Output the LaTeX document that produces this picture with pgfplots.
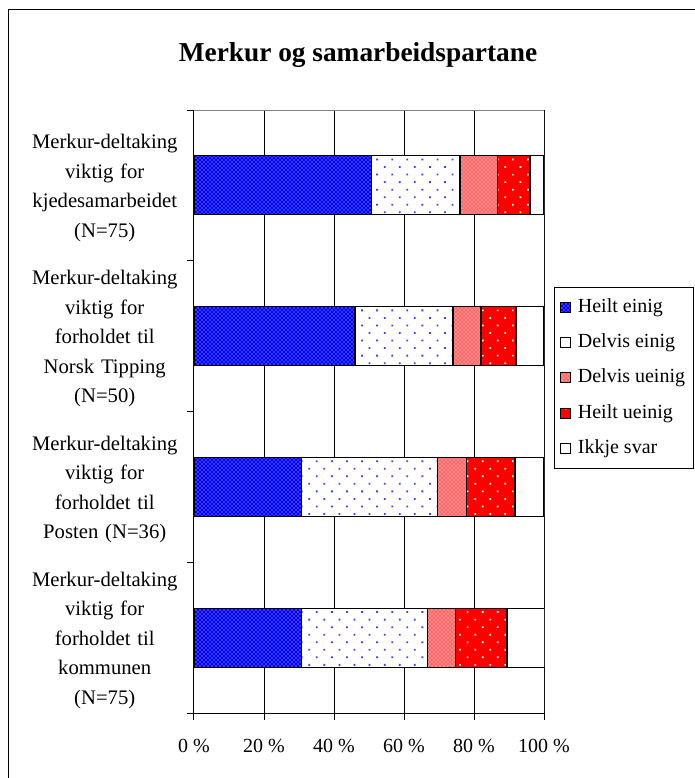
\documentclass[border=0pt]{standalone}
\usepackage{fontspec}
\setmainfont{Liberation Serif}
\usepackage{pgfplots}
\pgfplotsset{compat=1.18}
\usetikzlibrary{patterns,patterns.meta}

\pgfplotstableread{
y  he  de  du  hu  ik
0  50.7 25.3 10.7 9.3 4.0
1  46.0 28.0 8.0 10.0 8.0
2  30.6 38.9 8.3 13.9 8.3
3  30.7 36.0 8.0 14.7 10.7
}\datatable

\begin{document}
\begin{tikzpicture}
\useasboundingbox (0pt,0pt) rectangle (521.25pt,583.5pt);
\draw[black, line width=0.75pt] (6pt,0pt) -- (6pt,576pt) -- (521.25pt,576pt);
\node[font=\fontsize{20.5}{24}\selectfont\bfseries] at (268.5pt,542pt) {Merkur og samarbeidspartane};
\begin{axis}[
  at={(145.5pt,48.75pt)}, anchor=south west,
  scale only axis, width=262.5pt, height=452.25pt,
  xbar stacked, bar width=44.25pt,
  xmin=0, xmax=100, ymin=-0.5, ymax=3.5, y dir=reverse,
  axis x line*=bottom, axis y line*=left,
  axis line style={line width=0.75pt, black, -},
  xtick={0,20,...,100},
  /pgf/number format/assume math mode=true,
  xticklabel={\pgfmathprintnumber{\tick}~\%},
  xticklabel style={font=\fontsize{15}{18}\selectfont, yshift=-11pt},
  tick align=outside, major tick length=5.25pt,
  tick style={black, line width=0.75pt},
  xmajorgrids, major grid style={black, line width=0.75pt},
  ytick={-0.5,0.5,1.5,2.5,3.5}, yticklabels={},
  extra y ticks={0,1,2,3},
  extra y tick style={major tick length=0pt},
  extra y tick labels={
    {Merkur-deltaking\\viktig for\\kjedesamarbeidet\\(N=75)},
    {Merkur-deltaking\\viktig for\\forholdet til\\Norsk Tipping\\(N=50)},
    {Merkur-deltaking\\viktig for\\forholdet til\\Posten (N=36)},
    {Merkur-deltaking\\viktig for\\forholdet til\\kommunen\\(N=75)}},
  yticklabel style={font=\fontsize{15.5}{22.2}\selectfont, align=center, text width=120pt, inner sep=0pt, xshift=-6.75pt, yshift=-2pt},
  legend style={at={(1,0.7065)}, anchor=north west, xshift=7.5pt,
    draw=black, line width=0.6pt, fill=white,
    font=\fontsize{15}{18}\selectfont,
    nodes={inner sep=2pt, text height=10.5pt, text depth=3pt},
    row sep=9pt, column sep=3.5pt, inner xsep=4pt, inner ysep=6pt},
  legend cell align=left,
  legend image code/.code={\draw[#1,line width=0.6pt] (0pt,-3.75pt) rectangle (7.5pt,3.75pt);},
  every axis plot/.append style={draw=black, line width=0.9pt},
]
\addplot[fill=blue, postaction={pattern=crosshatch dots, pattern color=white}] table[x=he,y=y] {\datatable};
\addplot[fill=white, postaction={pattern={Dots[distance=8pt, angle=45, radius=0.95pt]}, pattern color=blue!75}] table[x=de,y=y] {\datatable};
\addplot[fill=red!60, postaction={pattern=crosshatch dots, pattern color=white}] table[x=du,y=y] {\datatable};
\addplot[fill=red, postaction={pattern={Dots[distance=8pt, angle=45, radius=0.9pt]}, pattern color=white}] table[x=hu,y=y] {\datatable};
\addplot[fill=white] table[x=ik,y=y] {\datatable};
\legend{Heilt einig, Delvis einig, Delvis ueinig, Heilt ueinig, Ikkje svar}
\draw[gray, line width=0.75pt] (axis description cs:0,1) -- (axis description cs:1,1) -- (axis description cs:1,0);
\end{axis}
\end{tikzpicture}
\end{document}
